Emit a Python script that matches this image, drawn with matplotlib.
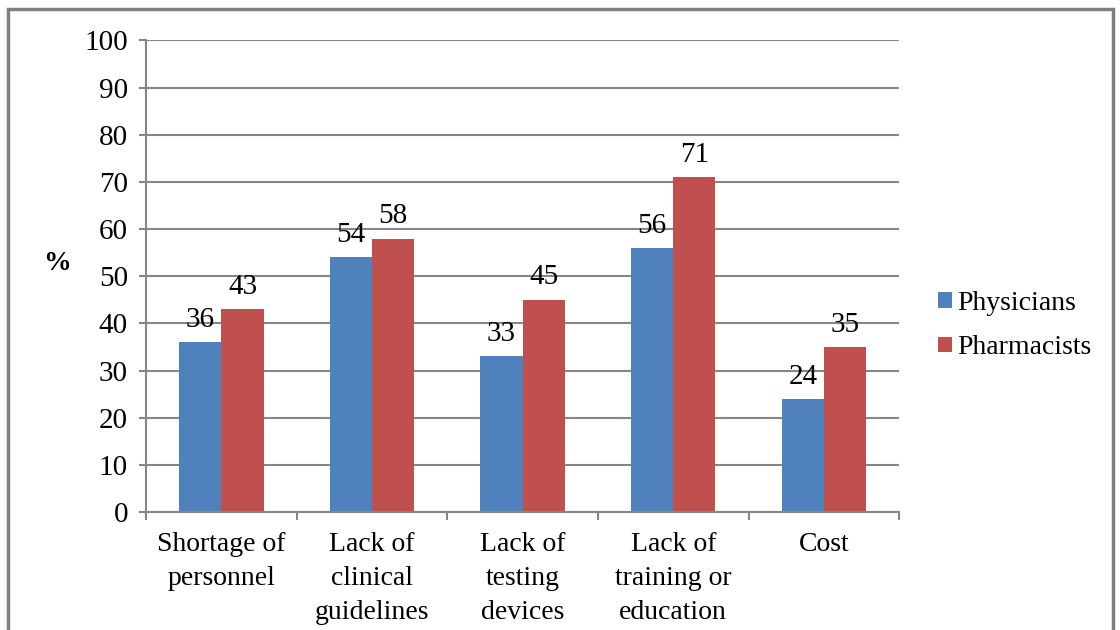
import matplotlib.pyplot as plt
import numpy as np
from matplotlib.patches import Rectangle

plt.rcParams['font.family'] = ['Liberation Serif', 'DejaVu Serif']

categories = ['Shortage of\npersonnel', 'Lack of\nclinical\nguidelines', 'Lack of\ntesting\ndevices',
              'Lack of\ntraining or\neducation', 'Cost']
physicians = [36, 54, 33, 56, 24]
pharmacists = [43, 58, 45, 71, 35]
series_names = ['Physicians', 'Pharmacists']
colors = ['#4F81BD', '#C0504D']

fig = plt.figure(figsize=(11.2, 6.3), dpi=100)
# outer frame like the Excel chart area
fig.patches.append(Rectangle((0.007, -0.01), 0.987, 0.995, transform=fig.transFigure,
                             fill=False, edgecolor='#808080', linewidth=2.5))

ax = fig.add_axes([0.1304, 0.187, 0.6725, 0.749])
x = np.arange(len(categories))
w = 0.28
b1 = ax.bar(x - w / 2, physicians, w, color=colors[0], label=series_names[0])
b2 = ax.bar(x + w / 2, pharmacists, w, color=colors[1], label=series_names[1])

for bars, vals in [(b1, physicians), (b2, pharmacists)]:
    for r, v in zip(bars, vals):
        ax.text(r.get_x() + r.get_width() / 2, v + 2.0, str(v), ha='center', va='bottom', fontsize=21)

ax.set_xlim(-0.5, len(categories) - 0.5)
ax.set_ylim(0, 100)
ax.set_yticks(range(0, 101, 10))
ax.yaxis.grid(True, color='#868686', linewidth=1.5)
ax.set_axisbelow(True)
ax.tick_params(axis='y', labelsize=21, length=5, width=1.5, color='#868686', pad=8)

ax.set_xticks(x)
ax.set_xticklabels(categories, fontsize=20, linespacing=1.48)
ax.tick_params(axis='x', length=0, pad=14)
ax.set_xticks(np.arange(-0.5, len(categories)), minor=True)
ax.tick_params(axis='x', which='minor', length=6, width=1.5, color='#868686')

for s in ['top', 'right']:
    ax.spines[s].set_visible(False)
for s in ['left', 'bottom']:
    ax.spines[s].set_color('#868686')
    ax.spines[s].set_linewidth(1.5)

ax.set_ylabel('%', fontsize=20, fontweight='bold', rotation=0, labelpad=0)
ax.yaxis.set_label_coords(-0.118, 0.5)

fig.legend(handles=[b1, b2], loc='center left', bbox_to_anchor=(0.815, 0.483), frameon=False,
           fontsize=20, handlelength=0.5, handleheight=0.5, handletextpad=0.2, labelspacing=0.7)

fig.savefig('out.png', dpi=100)
